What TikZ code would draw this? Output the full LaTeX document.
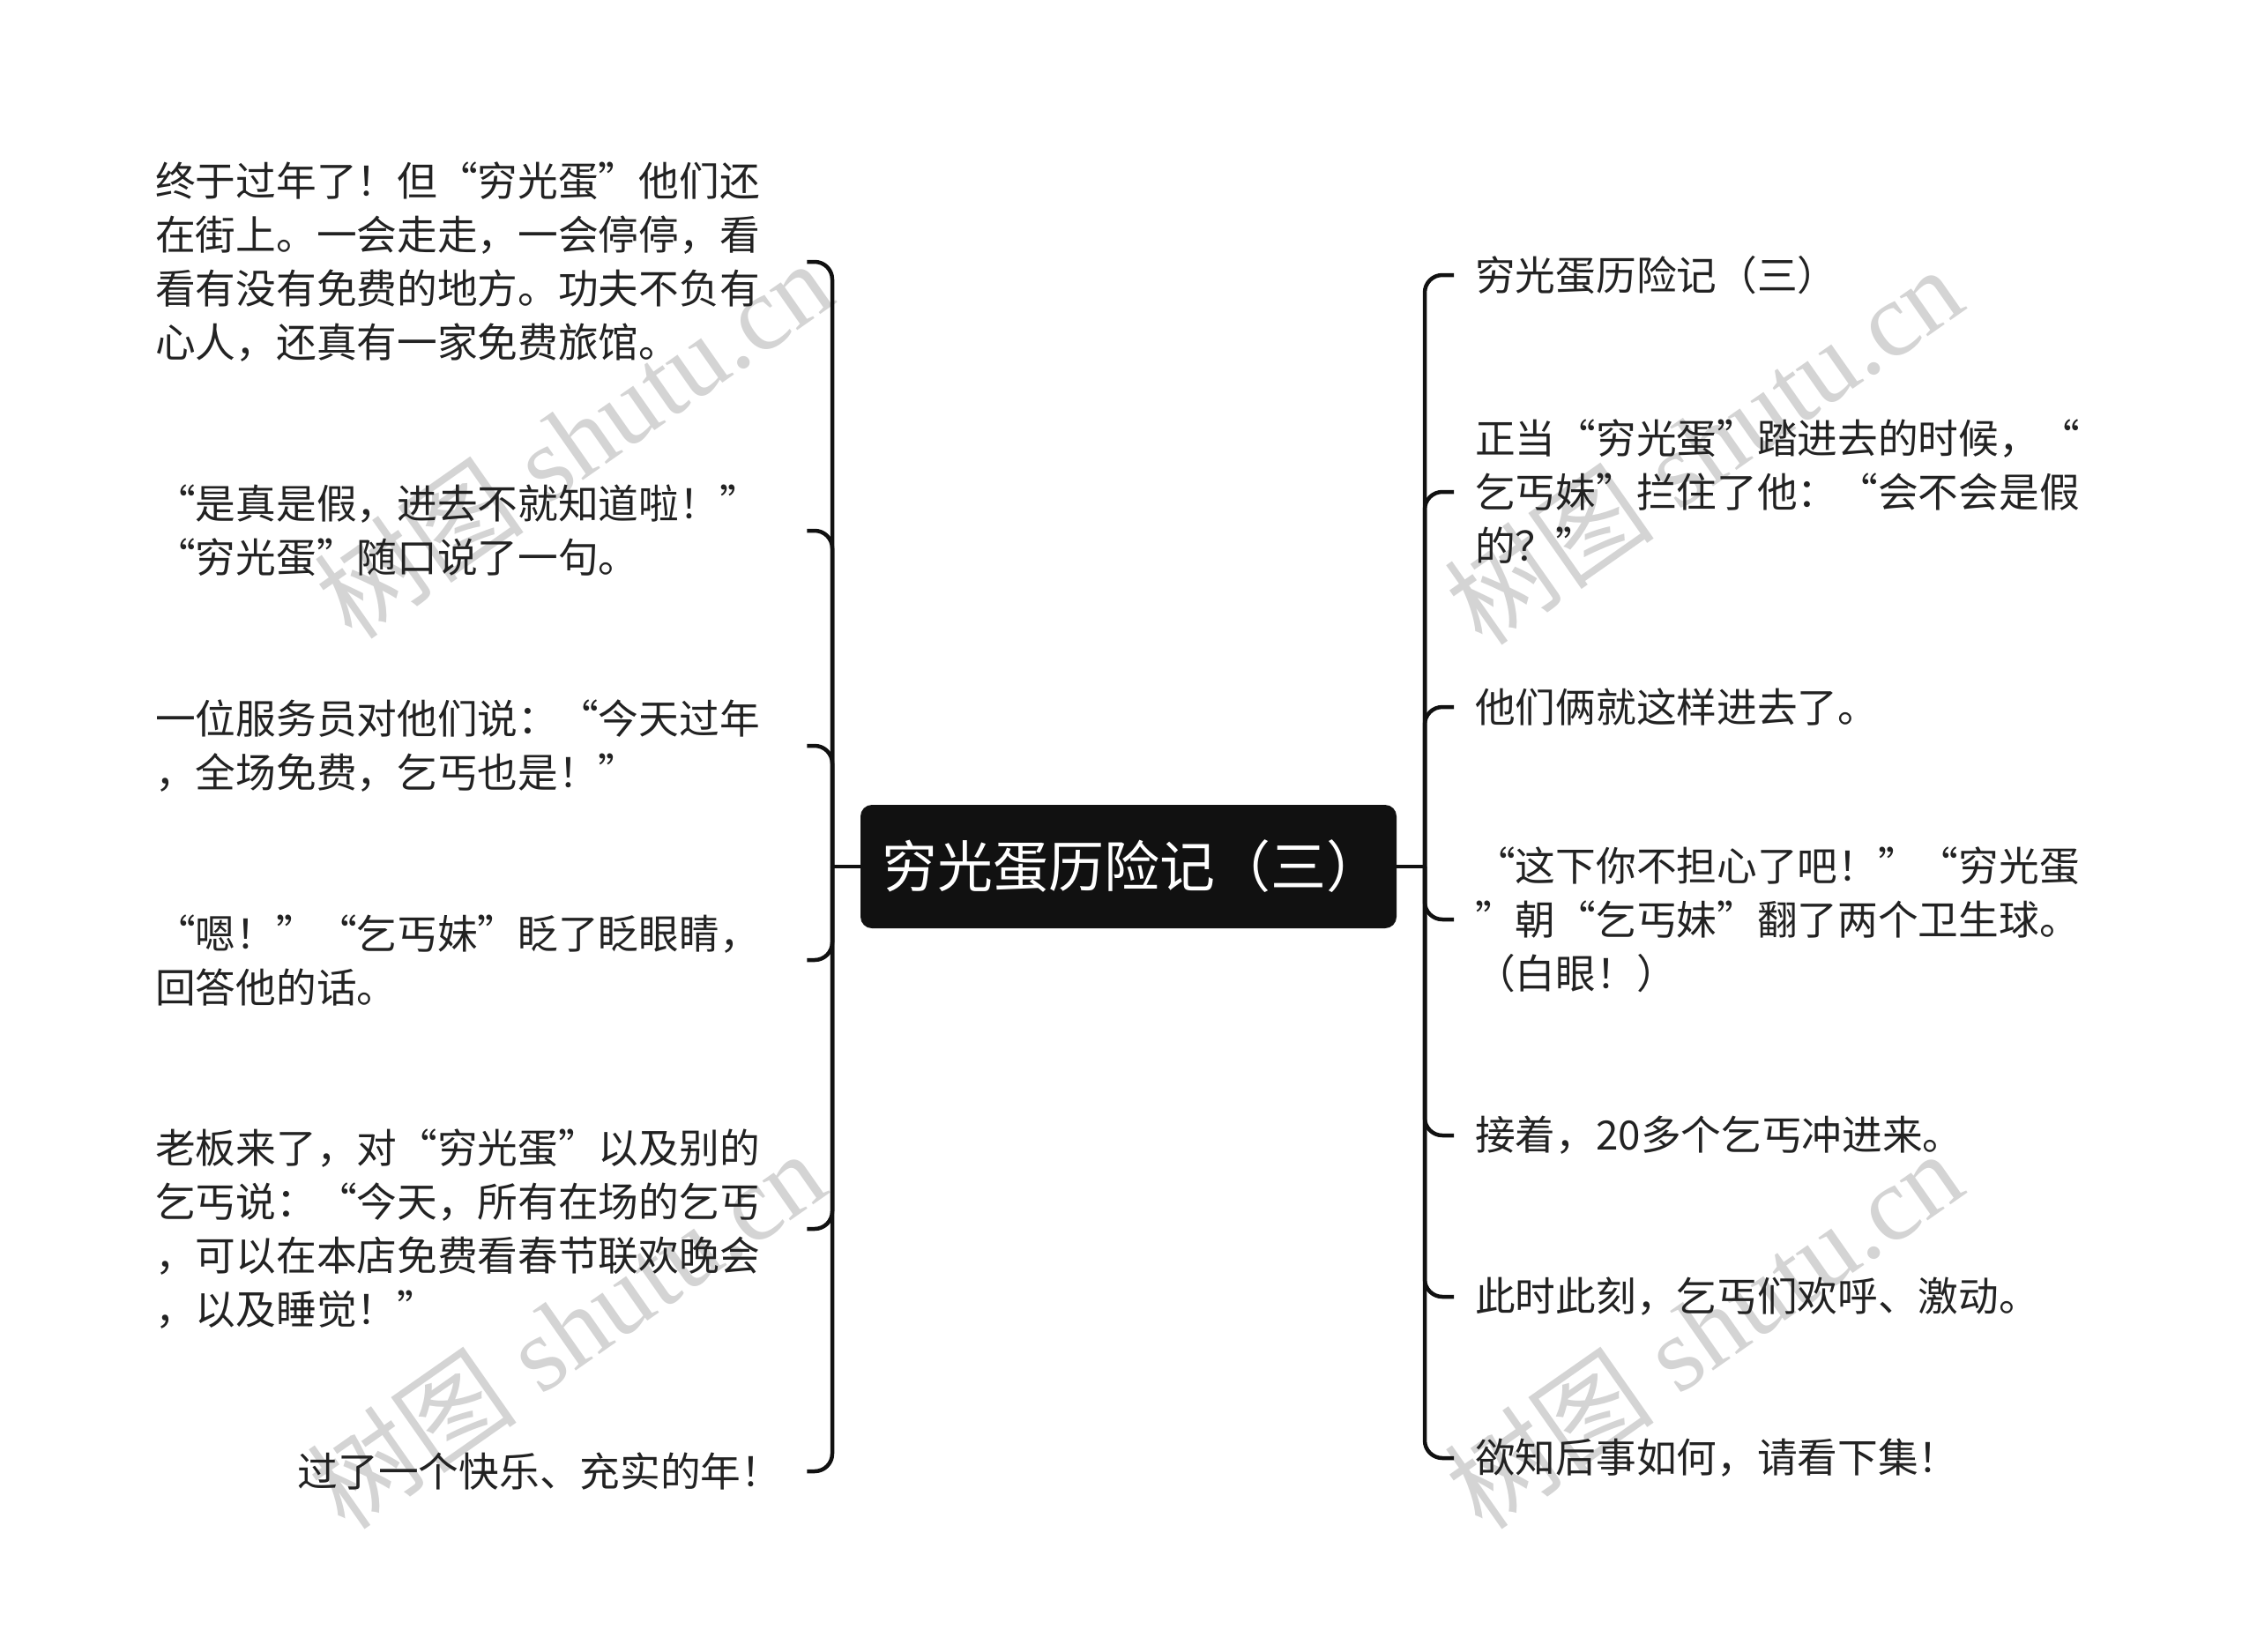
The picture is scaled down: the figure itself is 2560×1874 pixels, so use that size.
\documentclass[tikz,border=0pt]{standalone}
\usepackage{fontspec}
\newfontfamily\cjk{Noto Sans CJK SC}
\newfontfamily\wmfont{Liberation Serif}
\usetikzlibrary{calc}
\definecolor{txt}{HTML}{222222}
\definecolor{boxc}{HTML}{111111}
\definecolor{linec}{HTML}{111111}
\definecolor{wmgray}{HTML}{D4D4D4}
\begin{document}
\begin{tikzpicture}[x=1pt,y=1pt,
  leaf/.style={font=\cjk\fontsize{45.7}{61}\selectfont, text=txt, inner sep=0pt, text width=685pt, align=left},
  leafr/.style={leaf, align=right},
  conn/.style={draw=linec, line width=4.5pt, rounded corners=20pt},
  stub/.style={draw=linec, line width=4.5pt},
  wm/.style={text=wmgray, font=\wmfont\fontsize{120}{120}\selectfont, rotate=35, inner sep=0pt},
  root/.style={fill=boxc, rounded corners=13pt, minimum width=608pt, minimum height=140pt, text=white, inner sep=0pt, font=\cjk\fontsize{63}{70}\selectfont}
]
\useasboundingbox (0,0) rectangle (2560,-1874);
\fill[white] (0,0) rectangle (2560,-1874);

% watermarks
\node[wm] (w1) at (650,-498) {{\cjk 树图} shutu.cn};
\node[wm] (w2) at (642,-1508) {{\cjk 树图} shutu.cn};
\node[wm] (w3) at (1932,-505) {{\cjk 树图} shutu.cn};
\node[wm] (w4) at (1932,-1508) {{\cjk 树图} shutu.cn};

% root
\node[root] (c) at (1280,-983) {\hspace*{8pt}穷光蛋历险记（三）};
\coordinate (lt) at (944,-983);
\coordinate (rt) at (1616,-983);

% left leaves
\node[leaf, anchor=west] (L1) at (176,-297) {终于过年了！但“穷光蛋”他们还\\在街上。一会走走，一会停停，看\\看有没有免费的地方。功夫不负有\\心人，还真有一家免费旅馆。};
\node[leaf, anchor=west] (L2) at (176,-602) {“是真是假，进去不就知道啦！”\\“穷光蛋”随口说了一句。};
\node[leaf, anchor=west] (L3) at (176,-846) {一位服务员对他们说：“今天过年\\，全场免费，乞丐也是！”};
\node[leaf, anchor=west] (L4) at (176,-1089) {“嗯！”“乞丐妹”眨了眨眼睛，\\回答他的话。};
\node[leaf, anchor=west] (L5) at (176,-1394) {老板来了，对“穷光蛋”以及别的\\乞丐说：“今天，所有在场的乞丐\\，可以在本店免费看春节联欢晚会\\，以及睡觉！”};
\node[leafr, anchor=west] (L6) at (176,-1669) {过了一个快乐、充实的年！\kern-25pt};

% right leaves
\node[leaf, anchor=west] (R1) at (1673,-312) {穷光蛋历险记（三）};
\node[leaf, anchor=west] (R2) at (1673,-558) {正当“穷光蛋”踏进去的时候，“\\乞丐妹”拦住了他：“会不会是假\\的？”};
\node[leaf, anchor=west] (R3) at (1673,-802) {他们俩就这样进去了。};
\node[leaf, anchor=west] (R4) at (1673,-1043) {“这下你不担心了吧！”“穷光蛋\\”朝“乞丐妹”翻了两个卫生球。\\（白眼！）};
\node[leaf, anchor=west] (R5) at (1673,-1288) {接着，20多个乞丐冲进来。};
\node[leaf, anchor=west] (R6) at (1673,-1471) {此时此刻，乞丐们欢呼、激动。};
\node[leaf, anchor=west] (R7) at (1673,-1654) {欲知后事如何，请看下集！};

% connectors
\draw[stub] (c.west) -- (lt);
\draw[stub] (c.east) -- (rt);
\foreach \n in {L1,L2,L3,L4,L5,L6}
  \draw[conn] (lt) |- ($(\n.east)+(54,0)$);
\foreach \n in {R1,R2,R3,R4,R5,R6,R7}
  \draw[conn] (rt) |- ($(\n.west)+(-24,0)$);
\end{tikzpicture}
\end{document}
